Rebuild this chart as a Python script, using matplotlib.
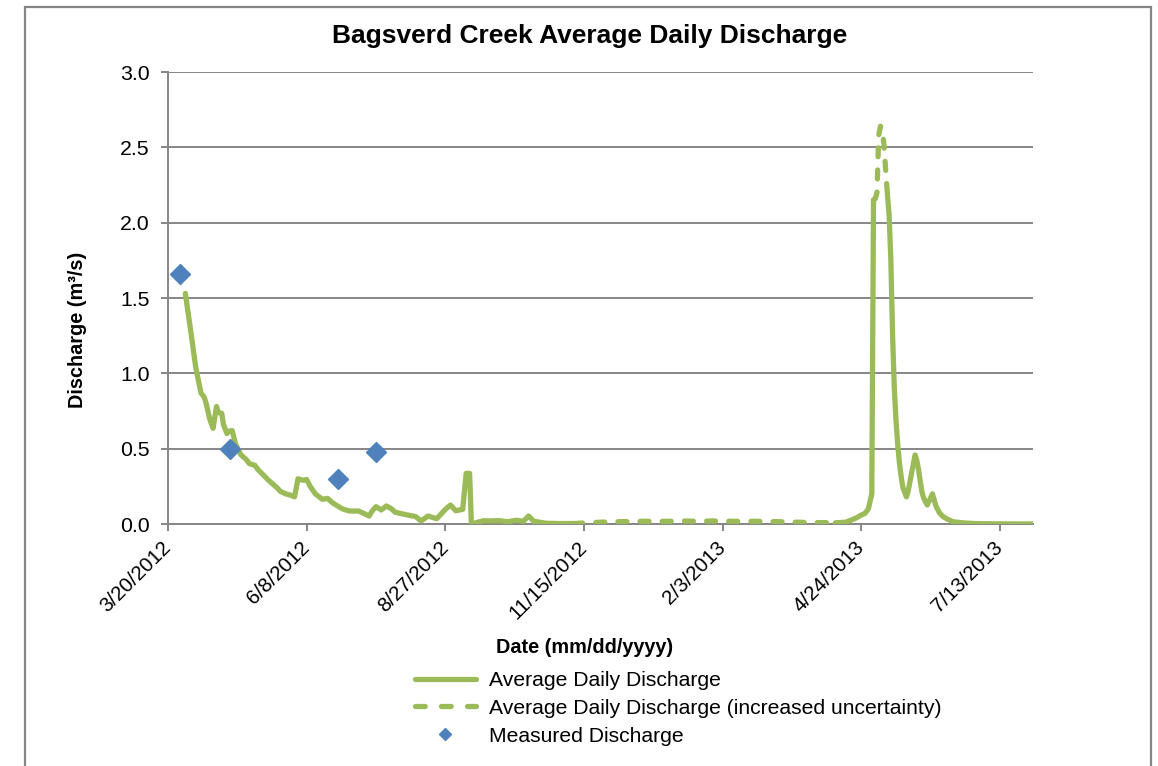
import numpy as np
import pandas as pd
import matplotlib
matplotlib.use("Agg")
import matplotlib.pyplot as plt
from matplotlib.lines import Line2D
from matplotlib.patches import Rectangle

plt.rcParams["font.family"] = ["Liberation Sans", "DejaVu Sans"]

START = pd.Timestamp("2012-03-20")

# days since 3/20/2012 and discharge (m3/s)
spring_2012_days = [10, 13, 16, 19, 21, 22, 24, 26, 28, 29, 31, 32, 34, 35, 37, 39, 42, 45, 47, 50,
                    52, 55, 58, 60, 63, 65, 68, 71, 73, 75, 78, 80, 82, 85, 89, 92, 95, 100, 102, 105,
                    110, 113, 116, 118, 120, 123, 126, 129, 131, 138, 143, 146, 150, 155, 160, 163, 166, 170, 172, 174,
                    175, 182, 186, 191, 196, 201, 205, 208, 211, 218, 226, 234]
spring_2012_q = [1.53, 1.29, 1.04, 0.87, 0.84, 0.80, 0.70, 0.635, 0.78, 0.74, 0.735, 0.66, 0.60, 0.615, 0.62, 0.53, 0.46, 0.43, 0.40, 0.39,
                 0.36, 0.325, 0.29, 0.27, 0.24, 0.215, 0.20, 0.19, 0.18, 0.30, 0.29, 0.295, 0.25, 0.20, 0.164, 0.17, 0.14, 0.104, 0.095, 0.086,
                 0.086, 0.07, 0.053, 0.09, 0.115, 0.093, 0.12, 0.10, 0.078, 0.06, 0.049, 0.02, 0.053, 0.035, 0.097, 0.126, 0.088, 0.097, 0.336, 0.336,
                 0.0, 0.022, 0.02, 0.022, 0.015, 0.025, 0.018, 0.053, 0.018, 0.005, 0.003, 0.003]

winter_days = [234, 242, 250, 258, 266, 274, 282, 290, 298, 306, 314, 322, 330, 338, 346, 354, 362, 370, 378, 385]
winter_q = [0.003, 0.008, 0.012, 0.015, 0.016, 0.018, 0.017, 0.018, 0.02, 0.018, 0.02, 0.019, 0.017, 0.018, 0.016,
            0.015, 0.012, 0.01, 0.009, 0.008]

melt_days = [385, 391, 395, 397, 400, 402, 404, 406, 407]
melt_q = [0.008, 0.012, 0.03, 0.04, 0.06, 0.07, 0.10, 0.20, 2.15]

peak_days = [407, 408, 409, 410, 411, 412, 413, 414, 415]
peak_q = [2.15, 2.16, 2.2, 2.58, 2.64, 2.62, 2.52, 2.35, 2.19]

summer_2013_days = [415, 416, 417, 418, 419, 420, 421, 422, 423, 424, 426, 427, 429, 431, 432, 433, 434, 435, 436, 438,
                    439, 441, 442, 443, 445, 447, 450, 453, 458, 465, 478, 499]
summer_2013_q = [2.19, 2.05, 1.75, 1.25, 0.9, 0.68, 0.52, 0.40, 0.31, 0.24, 0.18, 0.22, 0.34, 0.458, 0.42, 0.358, 0.28, 0.21, 0.17, 0.126,
                 0.15, 0.20, 0.16, 0.12, 0.075, 0.05, 0.03, 0.015, 0.008, 0.003, 0.001, 0.0]

measured_days = [7, 36, 98, 120]
measured_q = [1.66, 0.50, 0.30, 0.48]

tick_days = [0, 80, 160, 240, 320, 400, 480]
y_ticks = [0.0, 0.5, 1.0, 1.5, 2.0, 2.5, 3.0]

GREEN = "#9BBB59"
BLUE = "#4F81BD"
GRID = "#868686"


def to_dates(days):
    return START + pd.to_timedelta(days, unit="D")


fig = plt.figure(figsize=(11.58, 7.66), dpi=100)
ax = fig.add_axes([168 / 1158, 1 - 524 / 766, 865 / 1158, 452 / 766])

solid_kw = dict(color=GREEN, lw=3.8, solid_capstyle="round", solid_joinstyle="round")
dash_kw = dict(color=GREEN, lw=3.8, dashes=(1.7, 2.5), dash_capstyle="round")

for d, q in [(spring_2012_days, spring_2012_q), (melt_days, melt_q), (summer_2013_days, summer_2013_q)]:
    ax.plot(to_dates(d), q, zorder=3, **solid_kw)
for d, q in [(winter_days, winter_q), (peak_days, peak_q)]:
    ax.plot(to_dates(d), q, zorder=3, **dash_kw)

ax.plot(to_dates(measured_days), measured_q, ls="none", marker="D", ms=10, color=BLUE, zorder=4)

ax.set_xlim(START, START + pd.Timedelta(days=499))
ax.set_ylim(0, 3.0)
ax.set_yticks(y_ticks)
ax.set_yticklabels([f"{v:.1f}" for v in y_ticks], fontsize=15.3)
tick_dates = to_dates(tick_days)
ax.set_xticks(tick_dates)
ax.set_xticklabels([f"{t.month}/{t.day}/{t.year}" for t in tick_dates], fontsize=14.8,
                   rotation=45, ha="right", va="center", rotation_mode="anchor")

ax.grid(axis="y", color=GRID, lw=1.4)
ax.set_axisbelow(True)
for s in ["top", "right"]:
    ax.spines[s].set_visible(False)
for s in ["left", "bottom"]:
    ax.spines[s].set_color(GRID)
    ax.spines[s].set_linewidth(1.4)
ax.tick_params(axis="both", color=GRID, width=1.4, length=5)
ax.tick_params(axis="y", pad=8)
ax.tick_params(axis="x", pad=10)

ax.set_title("Bagsverd Creek Average Daily Discharge", fontsize=19, fontweight="bold",
             x=0.487, y=1.062, va="center")
ax.set_xlabel("Date (mm/dd/yyyy)", fontsize=14.3, fontweight="bold")
ax.xaxis.set_label_coords(0.481, -0.274)
ax.xaxis.label.set_va("center")
ax.set_ylabel("Discharge (m³/s)", fontsize=14.3, fontweight="bold")
ax.yaxis.set_label_coords(-0.105, 0.429)
ax.yaxis.label.set_va("center")

# legend dashes are a touch longer than on the plot so three fit the handle
legend_dash_kw = dict(dash_kw, dashes=(1.84, 3.09))
handles = [
    Line2D([0], [0], **solid_kw),
    Line2D([0], [0], **legend_dash_kw),
    Line2D([0], [0], ls="none", marker="D", ms=6, color=BLUE),
]
labels = ["Average Daily Discharge", "Average Daily Discharge (increased uncertainty)", "Measured Discharge"]
fig.legend(handles, labels, loc="upper left", bbox_to_anchor=(414.6 / 1158, 1 - 671 / 766),
           frameon=False, fontsize=15.2, handlelength=2.92, handletextpad=0.6,
           labelspacing=0.42, borderpad=0, borderaxespad=0)

fig.patches.append(Rectangle((25 / 1158, -0.05), 1126 / 1158, 1.05 - 7 / 766,
                             transform=fig.transFigure, fill=False, ec=GRID, lw=1.6))

fig.savefig("out.png", dpi=100)
